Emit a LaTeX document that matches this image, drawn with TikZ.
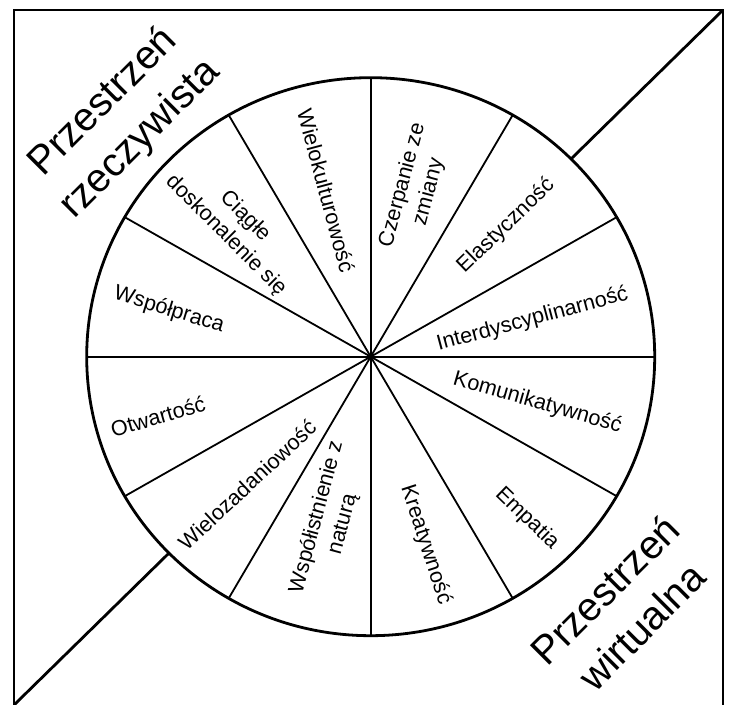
\documentclass[tikz,border=0pt]{standalone}
\usepackage{fontspec}
\setmainfont{Liberation Sans}

\begin{document}
\begin{tikzpicture}[x=0.5pt,y=0.5pt,
    rim/.style={line width=1.4pt},
    spoke/.style={line width=0.9pt},
    sector/.style={font=\fontsize{10.8}{13.5}\selectfont,align=center,inner sep=0pt},
    space/.style={font=\fontsize{20}{26}\selectfont,align=center,inner sep=0pt,rotate=45}]
  \useasboundingbox (0,0) rectangle (733,705);
  \coordinate (c) at (370.7,348.3);
  \coordinate (bl) at (14,0);
  \coordinate (tr) at (723,695);
  % frame (open at the bottom) and the diagonal
  \draw[rim] (bl) -- (14,695) -- (tr) -- (723,0);
  \draw[rim] (bl) -- (tr);
  % wheel
  \filldraw[rim,fill=white] (c) ellipse [x radius=284, y radius=279];
  \foreach \a in {0,30,...,330}
    \draw[spoke] (c) -- ([shift={(\a:284 and 279)}]c);
  \foreach \a/\r/\t/\txt [count=\i] in {
      105/172/-75/{Wielokulturowość},
      75/174/75/{Czerpanie ze\\zmiany},
      44/188/44/{Elastyczność},
      13/166/15/{Interdyscyplinarność},
      -15.5/173/-16/{Komunikatywność},
      -46/225/-44/{Empatia},
      -73.7/196/-72/{Kreatywność},
      256/169/75/{Współistnienie z\\naturą},
      226/178/43/{Wielozadaniowość},
      195.7/221/16/{Otwartość},
      167/207/-17/{Współpraca},
      136/188/-45/{Ciągłe\\doskonalenie się}}
    \node[sector,rotate=\t] (s\i) at ([shift={(\a:\r)}]c) {\txt};
  \node[space] (real) at (122,584) {Przestrzeń\\rzeczywista};
  \node[space] (virt) at (623,97) {Przestrzeń\\wirtualna};
\end{tikzpicture}
\end{document}
